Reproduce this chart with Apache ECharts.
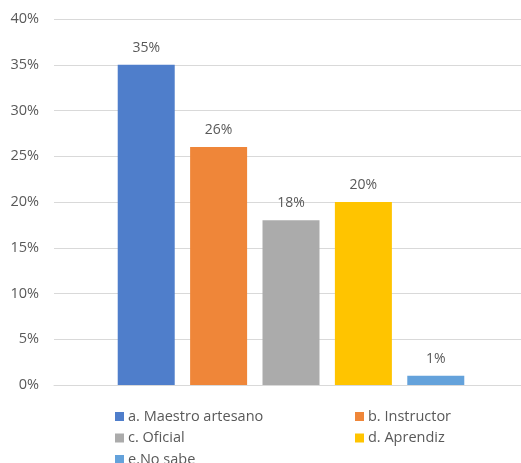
<!DOCTYPE html>
<html>
<head>
<meta charset="utf-8">
<script src="https://cdn.jsdelivr.net/npm/echarts@6/dist/echarts.min.js"></script>
<style>
  html, body { margin: 0; padding: 0; background: #fff; }
  #chart { width: 521px; height: 463px; }
</style>
</head>
<body>
<div id="chart"></div>
<script>
// datos
var seriesNames = ["a. Maestro artesano", "b. Instructor", "c. Oficial", "d. Aprendiz", "e.No sabe"];
var seriesValues = [35, 26, 18, 20, 1];
var seriesColors = ["#4F7ECB", "#EF8639", "#ABABAB", "#FFC400", "#64A2DB"];
var yTicks = [0, 5, 10, 15, 20, 25, 30, 35, 40];

var FONT = "Open Sans";
var GREY = "#595959";

var chart = echarts.init(document.getElementById("chart"));

var series = seriesNames.map(function(name, i) {
    return {
        name: name,
        type: "bar",
        data: [seriesValues[i]],
        barWidth: 57,
        barGap: "27%",
        itemStyle: { color: seriesColors[i] },
        label: {
            show: true,
            position: "top",
            distance: 10,
            formatter: "{c}%",
            color: GREY,
            fontFamily: FONT,
            fontSize: 14
        }
    };
});

var legendText = { color: GREY, fontFamily: FONT, fontSize: 14.5, lineHeight: 14, padding: [0, 0, 0, -1] };

chart.setOption({
    animation: false,
    grid: { left: 54, right: -7, top: 19, bottom: 78, outerBoundsMode: "none" },
    xAxis: {
        type: "category",
        data: [""],
        axisLine: { lineStyle: { color: "#D9D9D9" } },
        axisTick: { show: false },
        axisLabel: { show: false }
    },
    yAxis: {
        type: "value",
        min: yTicks[0],
        max: yTicks[yTicks.length - 1],
        interval: 5,
        axisLine: { show: false },
        axisTick: { show: false },
        splitLine: { lineStyle: { color: "#D9D9D9" } },
        axisLabel: {
            formatter: "{value}%",
            color: GREY,
            fontFamily: FONT,
            fontSize: 14.5,
            margin: 15
        }
    },
    legend: [{
        orient: "vertical",
        left: 115,
        top: 409,
        height: 80,
        padding: 0,
        itemWidth: 9,
        itemHeight: 9,
        itemGap: 6.5,
        icon: "rect",
        data: [seriesNames[0], seriesNames[2], seriesNames[4]],
        textStyle: legendText
    }, {
        orient: "vertical",
        left: 355,
        top: 409,
        height: 80,
        padding: 0,
        itemWidth: 9,
        itemHeight: 9,
        itemGap: 6.5,
        icon: "rect",
        data: [seriesNames[1], seriesNames[3]],
        textStyle: legendText
    }],
    series: series
});
</script>
</body>
</html>
